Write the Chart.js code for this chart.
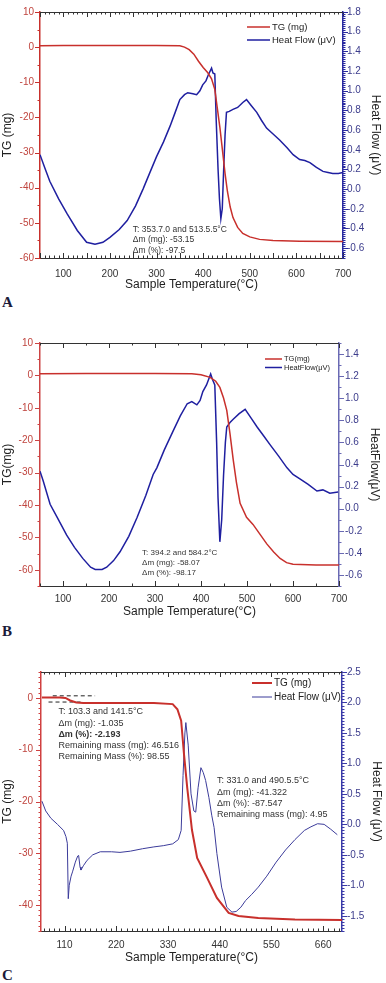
<!DOCTYPE html>
<html>
<head>
<meta charset="utf-8">
<script src="https://cdn.jsdelivr.net/npm/chart.js@4.4.1/dist/chart.umd.min.js"></script>
<style>
  body { margin: 0; background: #fff; width: 386px; height: 983px; position: relative; overflow: hidden; }
  canvas { position: absolute; left: 0; }
  .tag { position: absolute; left: 2px; font: bold 15px "Liberation Serif", serif; line-height: 15px; color: #1b1b3a; }
</style>
</head>
<body>
<canvas id="chartA" width="386" height="292" style="top:0px"></canvas>
<div class="tag" style="top:295px">A</div>
<canvas id="chartB" width="386" height="301" style="top:318px"></canvas>
<div class="tag" style="top:624px">B</div>
<canvas id="chartC" width="386" height="315" style="top:650px"></canvas>
<div class="tag" style="top:968px">C</div>
<script>
// ---- panel A ----
const tgTempA = [50, 100, 200, 300, 350, 360, 370, 380, 390, 400, 410, 418, 425, 430, 436, 442, 447, 452, 458, 464, 474, 485, 500, 521, 550, 607, 700];
const tgA = [0.4, 0.5, 0.5, 0.5, 0.4, 0, -0.7, -2, -4, -5.8, -7.3, -9, -12, -17, -23, -30, -36, -41, -45.5, -48.5, -51.3, -53, -54, -54.7, -55, -55.2, -55.3];
const hfTempA = [50, 60, 71, 90, 108, 130, 150, 168, 185, 200, 220, 237, 255, 271, 285, 300, 315, 329, 340, 350,
  360, 367, 378, 386, 393, 399, 406, 411, 418, 421, 425, 428, 432, 435, 438, 441, 444, 447, 450, 456,
  464, 474, 485, 493, 503, 515, 525, 536, 550, 564, 580, 593, 607, 618, 629, 643, 657, 668, 678, 690, 700];
const hfA = [0.35, 0.22, 0.08, -0.1, -0.25, -0.42, -0.54, -0.56, -0.54, -0.49, -0.41, -0.32, -0.17, 0.0, 0.16, 0.33, 0.48, 0.64, 0.78, 0.91,
  0.96, 0.98, 0.97, 0.96, 1.0, 1.06, 1.1, 1.16, 1.23, 1.18, 1.17, 0.7, 0.2, -0.1, -0.3, -0.2, 0.2, 0.55, 0.78, 0.79,
  0.81, 0.83, 0.88, 0.91, 0.85, 0.78, 0.7, 0.62, 0.56, 0.5, 0.42, 0.35, 0.3, 0.29, 0.27, 0.22, 0.18, 0.17, 0.16, 0.16, 0.17];

// ---- panel B ----
const tgTempB = [50, 150, 300, 380, 400, 420, 432, 441, 449, 456, 463, 470, 477, 485, 499, 513, 528, 543, 558, 572, 586, 600, 650, 700];
const tgB = [0.5, 0.6, 0.6, 0.5, 0.2, -0.6, -1.8, -3.7, -7, -10.8, -18, -26, -33, -39.5, -43.8, -46, -49, -52, -54.5, -56.5, -57.8, -58.3, -58.5, -58.5];
const hfTempB = [50, 57, 72, 90, 108, 125, 143, 160, 170, 185, 195, 210, 224, 243, 261, 280, 296, 304, 320, 339,
  355, 370, 380, 391, 398, 404, 412, 421, 425, 430, 434, 437, 441, 445, 449, 453, 456, 463, 470, 483,
  496, 509, 522, 536, 550, 568, 587, 600, 615, 633, 652, 665, 680, 698];
const hfB = [0.34, 0.25, 0.04, -0.1, -0.24, -0.35, -0.45, -0.53, -0.55, -0.55, -0.53, -0.47, -0.39, -0.25, -0.08, 0.12, 0.31, 0.37, 0.53, 0.7,
  0.84, 0.95, 0.97, 0.94, 0.98, 1.06, 1.12, 1.22, 1.17, 1.12, 0.6, 0.1, -0.3, -0.1, 0.3, 0.6, 0.74, 0.78, 0.81, 0.86,
  0.9, 0.82, 0.74, 0.66, 0.58, 0.48, 0.37, 0.31, 0.27, 0.22, 0.16, 0.17, 0.14, 0.15];

// ---- panel C ----
const tgTempC = [62, 100, 112, 122, 135, 150, 200, 300, 340, 350, 358, 364, 371, 381, 392, 413, 434, 459, 480, 522, 600, 700];
const tgC = [0.1, 0.1, 0, -0.5, -0.9, -1.0, -1.0, -1.0, -1.2, -2.2, -4.4, -10.8, -17.4, -25.5, -30.9, -34.7, -38.6, -41.5, -42.1, -42.5, -42.8, -42.9];
const hfTempC = [62, 70, 81, 95, 108, 113, 116, 118, 120, 124, 127, 133, 138, 140, 143, 145, 150, 158, 170, 186,
  210, 228, 250, 276, 300, 320, 340, 352, 358, 362, 366, 368, 373, 379, 385, 389, 394, 400, 405, 410,
  417, 423, 428, 434, 444, 455, 466, 475, 485, 495, 508, 522, 540, 560, 580, 600, 620, 634, 648, 662,
  676, 690];
const hfC = [0.38, 0.22, 0.10, 0.0, -0.1, -0.2, -0.31, -1.22, -1.0, -0.85, -0.78, -0.62, -0.52, -0.51, -0.7, -0.75, -0.68, -0.59, -0.5, -0.45,
  -0.45, -0.46, -0.44, -0.4, -0.37, -0.35, -0.32, -0.25, -0.1, 0.8, 1.5, 1.67, 1.3, 0.5, 0.22, 0.2, 0.6, 0.93, 0.85, 0.72,
  0.44, 0.15, -0.05, -0.48, -1.03, -1.36, -1.44, -1.43, -1.36, -1.25, -1.15, -1.03, -0.85, -0.62, -0.42, -0.25, -0.1, -0.04, 0.01, 0.0,
  -0.08, -0.17];
// tangent lines on the first mass step
const tanUpperX = [85, 175], tanUpperY = [0.4, 0.4];
const tanLowerX = [76, 150], tanLowerY = [-0.8, -0.8];

// ---- tick labels ----
const xTicksAB = [100, 200, 300, 400, 500, 600, 700];
const xTicksC = [110, 220, 330, 440, 550, 660];
const tgTicksAB = [-60, -50, -40, -30, -20, -10, 0, 10];
const hfTicksA = [-0.6, -0.4, -0.2, 0, 0.2, 0.4, 0.6, 0.8, 1.0, 1.2, 1.4, 1.6, 1.8];
const hfTicksB = [-0.6, -0.4, -0.2, 0, 0.2, 0.4, 0.6, 0.8, 1.0, 1.2, 1.4];
const tgTicksC = [-40, -30, -20, -10, 0];
const hfTicksC = [-1.5, -1.0, -0.5, 0, 0.5, 1.0, 1.5, 2.0, 2.5];

const FONT = '"Liberation Sans", Arial, sans-serif';
const RED = '#c8302c';
const BLUE = '#1f1fa0';

function zip(xs, ys) {
    return xs.map((x, i) => ({ x: x, y: ys[i] }));
}

function eachStep(min, max, step, fn) {
    var k = Math.ceil(min / step - 1e-9);
    for (; k * step <= max + 1e-9; k++) fn(k * step);
}

function isMajor(v, major) {
    var r = v / major;
    return Math.abs(r - Math.round(r)) < 1e-6;
}

// frame, minor ticks, legend and text notes
const framePlugin = {
    id: 'frame',
    afterDraw(chart, args, o) {
        const ctx = chart.ctx, a = chart.chartArea, s = chart.scales;
        function seg(x1, y1, x2, y2) {
            ctx.beginPath(); ctx.moveTo(x1, y1); ctx.lineTo(x2, y2); ctx.stroke();
        }
        ctx.save();
        ctx.lineWidth = 1;
        ctx.strokeStyle = '#333';
        seg(a.left, a.top + 0.5, a.right, a.top + 0.5);
        eachStep(s.x.min, s.x.max, o.x[1], v => {
            const px = Math.round(s.x.getPixelForValue(v)) + 0.5;
            const len = isMajor(v, o.x[0]) ? 5 : 2.5;
            seg(px, a.top, px, a.top + len);
            seg(px, a.bottom, px, a.bottom - len);
        });
        ctx.strokeStyle = o.leftColor;
        eachStep(s.y.min, s.y.max, o.y[1], v => {
            const py = Math.round(s.y.getPixelForValue(v)) + 0.5;
            seg(a.left, py, a.left - (isMajor(v, o.y[0]) ? 5 : 2.5), py);
        });
        ctx.strokeStyle = o.rightColor;
        eachStep(s.y1.min, s.y1.max, o.y1[1], v => {
            const py = Math.round(s.y1.getPixelForValue(v)) + 0.5;
            seg(a.right, py, a.right + (isMajor(v, o.y1[0]) ? 5 : 2.5), py);
        });

        // legend
        const L = o.legend;
        ctx.textBaseline = 'middle';
        ctx.textAlign = 'left';
        chart.data.datasets.filter(d => d.label).forEach((d, i) => {
            const y = a.top + L.dy + i * L.gap;
            const x0 = a.right - L.dx;
            ctx.strokeStyle = d.borderColor;
            ctx.lineWidth = d.borderWidth;
            seg(x0, y, x0 + L.len, y);
            ctx.fillStyle = '#222';
            ctx.font = L.size + 'px ' + FONT;
            ctx.fillText(d.label, x0 + L.len + 2, y);
        });

        // notes
        (o.notes || []).forEach(n => {
            const px = s.x.getPixelForValue(n.at[0]);
            const py = s.y.getPixelForValue(n.at[1]);
            ctx.fillStyle = '#333';
            n.lines.forEach((t, i) => {
                const bold = n.bold && n.bold.indexOf(i) >= 0;
                ctx.font = (bold ? 'bold ' : '') + n.size + 'px ' + FONT;
                ctx.fillText(t, px, py + i * n.gap);
            });
        });
        ctx.restore();
    }
};

function makeChart(id, p) {
    const datasets = [
        { label: p.names[0], data: zip(p.tgX, p.tgY), yAxisID: 'y', borderColor: RED, borderWidth: p.tgWidth },
        { label: p.names[1], data: zip(p.hfX, p.hfY), yAxisID: 'y1', borderColor: p.hfColor, borderWidth: p.hfWidth }
    ].concat(p.extra || []);
    datasets.forEach(d => { d.pointRadius = 0; d.tension = 0; d.fill = false; });

    return new Chart(document.getElementById(id), {
        type: 'line',
        data: { datasets: datasets },
        options: {
            responsive: false,
            animation: false,
            layout: { padding: { top: p.padTop, right: p.padRight, left: 0, bottom: 0 } },
            plugins: {
                legend: { display: false },
                tooltip: { enabled: false },
                frame: p.frame
            },
            scales: {
                x: {
                    type: 'linear', min: p.xMin, max: p.xMax,
                    afterFit: sc => { sc.height = p.xH; },
                    afterBuildTicks: sc => { sc.ticks = p.xTicks.map(v => ({ value: v })); },
                    grid: { display: false, drawTicks: false },
                    border: { display: true, color: '#333', width: 1 },
                    ticks: { color: '#333', font: { size: 10, family: FONT }, padding: p.xPad, autoSkip: false, maxRotation: 0 },
                    title: { display: true, text: 'Sample Temperature(°C)', color: '#222', font: { size: 12, family: FONT }, padding: 0 }
                },
                y: {
                    position: 'left', min: p.tgMin, max: p.tgMax,
                    afterFit: sc => { sc.width = p.yW; },
                    afterBuildTicks: sc => { sc.ticks = p.tgTicks.map(v => ({ value: v })); },
                    grid: { display: false, drawTicks: false },
                    border: { display: true, color: p.frame.leftColor, width: 1.5 },
                    ticks: { color: '#c0453f', font: { size: 10, family: FONT }, padding: p.yPad },
                    title: { display: true, text: p.titles[0], color: '#222', font: { size: 12, family: FONT }, padding: 0 }
                },
                y1: {
                    position: 'right', min: p.hfMin, max: p.hfMax,
                    afterFit: sc => { sc.width = p.y1W; },
                    afterBuildTicks: sc => { sc.ticks = p.hfTicks.map(v => ({ value: v })); },
                    grid: { display: false, drawTicks: false },
                    border: { display: true, color: p.frame.rightColor, width: 1.5 },
                    ticks: { color: '#3c3c8c', font: { size: 10, family: FONT }, padding: p.y1Pad, callback: v => v.toFixed(1) },
                    title: { display: true, text: p.titles[1], color: '#222', font: { size: 12, family: FONT }, padding: 0 }
                }
            }
        },
        plugins: [framePlugin]
    });
}

makeChart('chartA', {
    names: ['TG (mg)', 'Heat Flow (μV)'], titles: ['TG (mg)', 'Heat Flow (μV)'],
    tgX: tgTempA, tgY: tgA, hfX: hfTempA, hfY: hfA,
    tgWidth: 1.5, hfWidth: 1.5, hfColor: BLUE,
    xMin: 50, xMax: 700, xTicks: xTicksAB,
    tgMin: -60, tgMax: 10, tgTicks: tgTicksAB,
    hfMin: -0.7, hfMax: 1.8, hfTicks: hfTicksA,
    padTop: 12, padRight: 3, xH: 34, yW: 40, y1W: 40, xPad: 10, yPad: 6, y1Pad: 4,
    frame: {
        x: [50, 10], y: [10, 5], y1: [0.2, 0.02], leftColor: '#c8302c', rightColor: '#2a2aa0',
        legend: { dx: 96, dy: 15, gap: 13, len: 23, size: 9.5 },
        notes: [{ at: [249, -51.8], gap: 10.5, size: 8.5,
            lines: ['T: 353.7.0 and 513.5.5°C', 'Δm (mg): -53.15', 'Δm (%): -97.5'] }]
    }
});

makeChart('chartB', {
    names: ['TG(mg)', 'HeatFlow(μV)'], titles: ['TG(mg)', 'HeatFlow(μV)'],
    tgX: tgTempB, tgY: tgB, hfX: hfTempB, hfY: hfB,
    tgWidth: 1.5, hfWidth: 1.5, hfColor: BLUE,
    xMin: 50, xMax: 700, xTicks: xTicksAB,
    tgMin: -65, tgMax: 10, tgTicks: tgTicksAB,
    hfMin: -0.7, hfMax: 1.5, hfTicks: hfTicksB,
    padTop: 25, padRight: 4, xH: 33, yW: 40, y1W: 43, xPad: 7, yPad: 7, y1Pad: 6,
    frame: {
        x: [100, 50], y: [10, 5], y1: [0.2, 0.1], leftColor: '#cc4444', rightColor: '#6a6ab4',
        legend: { dx: 74, dy: 16, gap: 8.5, len: 17, size: 7.5 },
        notes: [{ at: [272, -54.6], gap: 10.3, size: 8,
            lines: ['T: 394.2 and 584.2°C', 'Δm (mg): -58.07', 'Δm (%): -98.17'] }]
    }
});

makeChart('chartC', {
    names: ['TG (mg)', 'Heat Flow (μV)'], titles: ['TG (mg)', 'Heat Flow (μV)'],
    tgX: tgTempC, tgY: tgC, hfX: hfTempC, hfY: hfC,
    tgWidth: 2, hfWidth: 1, hfColor: '#3b3b9a',
    xMin: 60, xMax: 700, xTicks: xTicksC,
    tgMin: -45, tgMax: 5, tgTicks: tgTicksC,
    hfMin: -1.75, hfMax: 2.5, hfTicks: hfTicksC,
    padTop: 22, padRight: 2, xH: 34, yW: 41, y1W: 42, xPad: 8, yPad: 8, y1Pad: 5,
    extra: [
        { data: zip(tanUpperX, tanUpperY), yAxisID: 'y', borderColor: '#222', borderWidth: 1, borderDash: [4, 3] },
        { data: zip(tanLowerX, tanLowerY), yAxisID: 'y', borderColor: '#222', borderWidth: 1, borderDash: [4, 3] }
    ],
    frame: {
        x: [110, 11], y: [10, 1], y1: [0.5, 0.05], leftColor: '#d04040', rightColor: '#3a3aa8',
        legend: { dx: 90, dy: 11, gap: 14, len: 20, size: 10 },
        notes: [
            { at: [97, -2.7], gap: 11.2, size: 9, bold: [2],
                lines: ['T: 103.3 and 141.5°C', 'Δm (mg): -1.035', 'Δm (%): -2.193', 'Remaining mass (mg): 46.516', 'Remaining Mass (%): 98.55'] },
            { at: [434, -16], gap: 11.3, size: 9,
                lines: ['T: 331.0 and 490.5.5°C', 'Δm (mg): -41.322', 'Δm (%): -87.547', 'Remaining mass (mg): 4.95'] }
        ]
    }
});
</script>
</body>
</html>
